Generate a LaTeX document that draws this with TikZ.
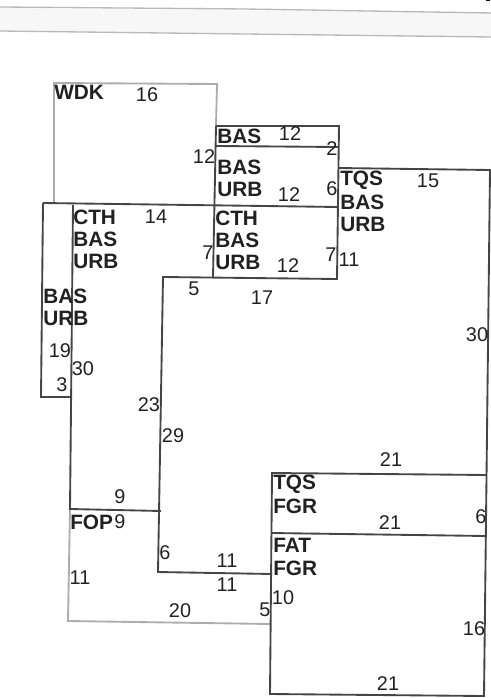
\documentclass[tikz,border=0pt]{standalone}
\usepackage{fontspec}
\setmainfont{Liberation Sans}
\definecolor{ink}{gray}{0.27}
\definecolor{pale}{gray}{0.68}
\definecolor{txt}{gray}{0.13}
\tikzset{
  wall/.style={draw=ink,line width=1.4pt},
  palewall/.style={draw=pale,line width=1.4pt},
  num/.style={inner sep=0pt,text=txt,font=\fontsize{14.9}{14.9}\selectfont},
  lab/.style={inner sep=0pt,anchor=west,text=txt,font=\fontsize{15.6}{15.6}\selectfont\bfseries}
}
\begin{document}
\begin{tikzpicture}[x=0.75pt,y=-0.75pt]
\useasboundingbox (0,0) rectangle (491,698);
% header band
\fill[gray!6] (0,8) -- (491,13) -- (491,37) -- (0,31) -- cycle;
\draw[gray!55,line width=1pt] (0,7) -- (245,9) -- (491,13);
\draw[gray!55,line width=1pt] (0,31) -- (245,34) -- (491,37);
\fill[black] (486,0) rectangle (490,1.5);
% pale outlines
\draw[palewall] (54,203) -- (54,83) -- (217,84) -- (216,126);
\draw[palewall] (70,509) -- (68,621) -- (270,624);
% dark outlines
\draw[wall] (216,126) -- (339,126) -- (337,279) -- (163,277) -- (158,572) -- (272,574);
\draw[wall] (216,146) -- (338,147);
\draw[wall] (216,126) -- (213,277);
\draw[wall] (43,203) -- (338,207);
\draw[wall] (43,203) -- (41,397) -- (71,397);
\draw[wall] (73,205) -- (70,509) -- (161,511);
\draw[wall] (338,168) -- (490,170) -- (484,696) -- (270,694) -- (272,473) -- (487,475);
\draw[wall] (271,533) -- (486,536);
% block labels
\node[lab] (wdk) at (54,92) {WDK};
\node[lab] (bas1) at (217,136) {BAS};
\node[lab] (bas2) at (217,167) {BAS};
\node[lab] (urb2) at (217,189) {URB};
\node[lab] (cth3) at (215,218) {CTH};
\node[lab] (bas3) at (215,240) {BAS};
\node[lab] (urb3) at (215,262) {URB};
\node[lab] (tqs4) at (340,180) {TQS};
\node[lab] (bas4) at (340,202) {BAS};
\node[lab] (urb4) at (340,224) {URB};
\node[lab] (cth5) at (73,217) {CTH};
\node[lab] (bas5) at (73,239) {BAS};
\node[lab] (urb5) at (73,261) {URB};
\node[lab] (bas6) at (43,296) {BAS};
\node[lab] (urb6) at (43,318) {URB};
\node[lab] (fop) at (70,522) {FOP};
\node[lab] (tqs7) at (273,484) {TQS};
\node[lab] (fgr7) at (273,506) {FGR};
\node[lab] (fat8) at (273,545) {FAT};
\node[lab] (fgr8) at (273,568) {FGR};
% dimensions
\node[num] (n1) at (147,95) {16};
\node[num] (n2) at (204,157) {12};
\node[num] (n3) at (290,134) {12};
\node[num] (n4) at (332,149) {2};
\node[num] (n5) at (289,195) {12};
\node[num] (n6) at (332,189) {6};
\node[num] (n7) at (208,253) {7};
\node[num] (n8) at (288,266) {12};
\node[num] (n9) at (331,255) {7};
\node[num] (n10) at (349,260) {11};
\node[num] (n11) at (428,181) {15};
\node[num] (n12) at (477,335) {30};
\node[num] (n13) at (156,217) {14};
\node[num] (n14) at (194,289) {5};
\node[num] (n15) at (262,298) {17};
\node[num] (n16) at (60,351) {19};
\node[num] (n17) at (62,385) {3};
\node[num] (n18) at (83,369) {30};
\node[num] (n19) at (149,405) {23};
\node[num] (n20) at (173,436) {29};
\node[num] (n21) at (120,497) {9};
\node[num] (n22) at (120,522) {9};
\node[num] (n23) at (165,553) {6};
\node[num] (n24) at (227,561) {11};
\node[num] (n25) at (227,585) {11};
\node[num] (n26) at (80,578) {11};
\node[num] (n27) at (180,611) {20};
\node[num] (n28) at (265,610) {5};
\node[num] (n29) at (283,598) {10};
\node[num] (n30) at (391,460) {21};
\node[num] (n31) at (390,523) {21};
\node[num] (n32) at (481,517) {6};
\node[num] (n33) at (474,629) {16};
\node[num] (n34) at (388,684) {21};
\end{tikzpicture}
\end{document}
